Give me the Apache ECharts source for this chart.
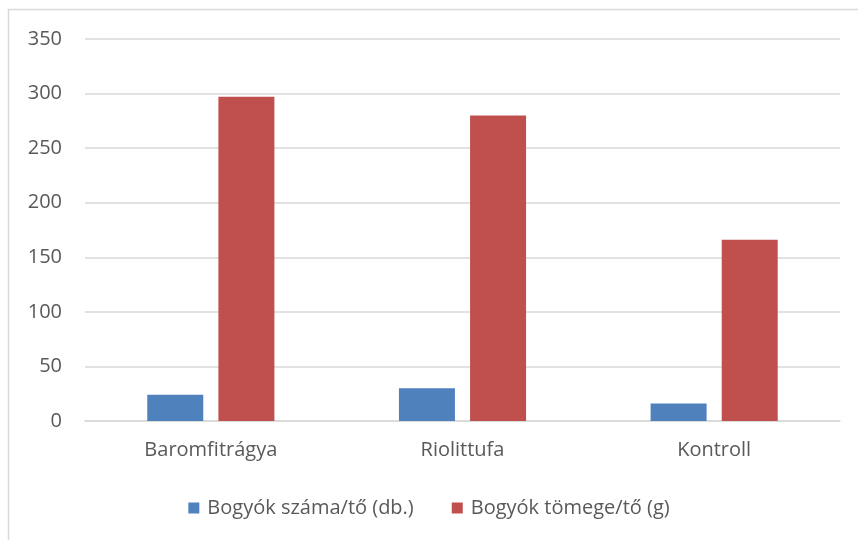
<!DOCTYPE html>
<html>
<head>
<meta charset="utf-8">
<script src="https://cdn.jsdelivr.net/npm/echarts@6/dist/echarts.min.js"></script>
<style>
  html, body { margin: 0; padding: 0; background: #fff; }
  #chart { width: 858px; height: 540px; }
</style>
</head>
<body>
<div id="chart"></div>
<script>
// Berry yield per plant by soil treatment
const categories = ['Baromfitrágya', 'Riolittufa', 'Kontroll'];
const berryCount = [24, 30, 16];      // Bogyók száma/tő (db.)
const berryMass = [297, 280, 166];    // Bogyók tömege/tő (g)
const seriesNames = ['Bogyók száma/tő (db.)', 'Bogyók tömege/tő (g)'];

const textColor = '#595959';
const gridColor = '#d9d9d9';
const fontFamily = 'Open Sans, Noto Sans, sans-serif';

const chart = echarts.init(document.getElementById('chart'));
chart.setOption({
  animation: false,
  backgroundColor: '#fff',
  textStyle: { fontFamily: fontFamily },
  graphic: [{
    type: 'rect',
    shape: { x: 8.5, y: 9.5, width: 900, height: 600 },
    style: { fill: 'none', stroke: gridColor, lineWidth: 1.5 },
    silent: true
  }],
  grid: { left: 85, right: 18, top: 39, bottom: 119, containLabel: false },
  legend: {
    top: 493,
    left: 'center',
    itemWidth: 11,
    itemHeight: 11,
    itemGap: 38,
    icon: 'rect',
    textStyle: { color: textColor, fontSize: 20, fontFamily: fontFamily, padding: [0, 0, 0, 3] },
    data: seriesNames
  },
  xAxis: {
    type: 'category',
    data: categories,
    axisLine: { lineStyle: { color: gridColor, width: 1.5 } },
    axisTick: { show: false },
    axisLabel: { color: textColor, fontSize: 20, margin: 19 }
  },
  yAxis: {
    type: 'value',
    min: 0,
    max: 350,
    interval: 50,
    axisLine: { show: false },
    axisTick: { show: false },
    splitLine: { lineStyle: { color: gridColor, width: 1.5 } },
    axisLabel: { color: textColor, fontSize: 20, margin: 23 }
  },
  series: [
    {
      name: seriesNames[0],
      type: 'bar',
      data: berryCount,
      barWidth: 56,
      barGap: '27%',
      itemStyle: { color: '#4f81bd' }
    },
    {
      name: seriesNames[1],
      type: 'bar',
      data: berryMass,
      barWidth: 56,
      itemStyle: { color: '#c0504d' }
    }
  ]
});
</script>
</body>
</html>
